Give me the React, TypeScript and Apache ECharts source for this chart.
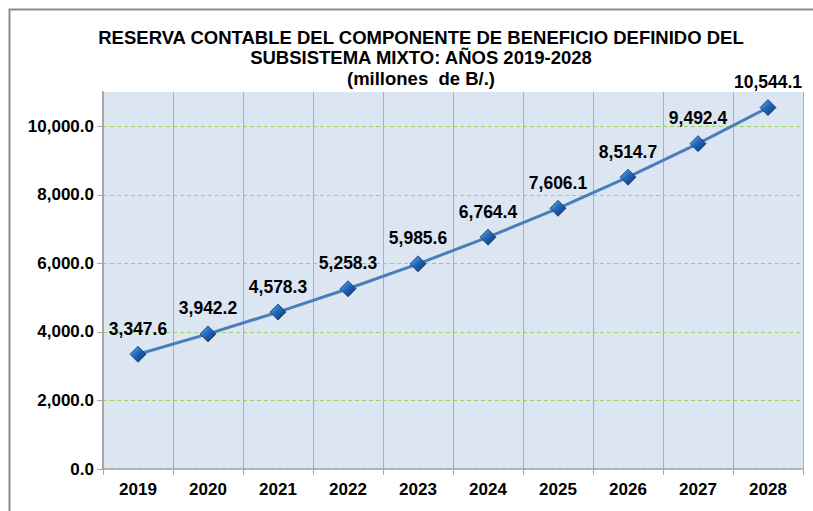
import React, { useEffect, useRef } from "react";
import * as echarts from "echarts";

const years = ["2019", "2020", "2021", "2022", "2023", "2024", "2025", "2026", "2027", "2028"];
const reserva = [3347.6, 3942.2, 4578.3, 5258.3, 5985.6, 6764.4, 7606.1, 8514.7, 9492.4, 10544.1];
const titleLines = [
  "RESERVA CONTABLE DEL COMPONENTE DE BENEFICIO DEFINIDO DEL",
  "SUBSISTEMA MIXTO: AÑOS 2019-2028",
  "(millones  de B/.)",
];

const fmt = (v: number) =>
  v.toLocaleString("en-US", { minimumFractionDigits: 1, maximumFractionDigits: 1 });

const FONT = "'Liberation Sans', Arial, sans-serif";

export default function App() {
  const ref = useRef<HTMLDivElement>(null);
  useEffect(() => {
    if (!ref.current) return;
    const chart = echarts.init(ref.current, undefined, { renderer: "svg" });
    chart.setOption({
      animation: false,
      backgroundColor: "#ffffff",
      title: {
        text: titleLines.join("\n"),
        left: 416,
        top: 22,
        textAlign: "center",
        textStyle: {
          fontFamily: FONT,
          fontWeight: "bold",
          fontSize: 18.5,
          lineHeight: 20.5,
          color: "#000",
        },
      },
      graphic: [
        {
          type: "rect",
          shape: { x: 9.5, y: 9.5, width: 830, height: 540 },
          style: { fill: "none", stroke: "#8c8c8c", lineWidth: 2 },
          silent: true,
          z: 100,
        },
      ],
      grid: {
        left: 103,
        right: 10,
        top: 92,
        bottom: 42,
        show: true,
        backgroundColor: "#dce6f2",
        borderWidth: 0,
      },
      xAxis: [
        {
          type: "category",
          data: years,
          boundaryGap: true,
          axisLine: { lineStyle: { color: "#a6a6a6", width: 1.5 } },
          axisTick: { show: true, length: 6, lineStyle: { color: "#a6a6a6" } },
          axisLabel: {
            fontFamily: FONT,
            fontWeight: "bold",
            fontSize: 17,
            color: "#000",
            margin: 12,
          },
          splitLine: { show: false },
        },
        {
          type: "value",
          min: 0,
          max: years.length,
          interval: 1,
          position: "top",
          axisLine: { show: false },
          axisTick: { show: false },
          axisLabel: { show: false },
          splitLine: {
            show: true,
            showMinLine: false,
            lineStyle: { color: "#92d050", width: 1, type: "solid" },
          },
        },
      ],
      yAxis: {
        type: "value",
        min: 0,
        max: 11000,
        interval: 2000,
        axisLine: { show: true, lineStyle: { color: "#a6a6a6", width: 2 } },
        axisTick: { show: true, length: 6, lineStyle: { color: "#a6a6a6" } },
        axisLabel: {
          fontFamily: FONT,
          fontWeight: "bold",
          fontSize: 17,
          color: "#000",
          margin: 9,
          showMaxLabel: false,
          formatter: (v: number) => fmt(v),
        },
        splitLine: {
          show: true,
          showMaxLine: false,
          lineStyle: { color: "#9bd35a", width: 1, type: [4, 3] },
        },
      },
      series: [
        {
          type: "line",
          xAxisIndex: 0,
          data: reserva,
          symbol: "diamond",
          symbolSize: 16,
          lineStyle: { color: "#4a7ebb", width: 3 },
          itemStyle: {
            color: new echarts.graphic.LinearGradient(0, 0, 1, 1, [
              { offset: 0, color: "#6db8f2" },
              { offset: 0.45, color: "#2268bd" },
              { offset: 1, color: "#0c2f5e" },
            ]),
            borderColor: "#17375e",
            borderWidth: 0.8,
          },
          label: {
            show: true,
            position: "top",
            distance: 8,
            fontFamily: FONT,
            fontWeight: "bold",
            fontSize: 17.5,
            color: "#000",
            formatter: (p: any) => fmt(p.value),
          },
        },
      ],
    });
    return () => chart.dispose();
  }, []);
  return (
    <div
      ref={ref}
      style={{ position: "fixed", left: 0, top: 0, width: 813, height: 511 }}
    />
  );
}
